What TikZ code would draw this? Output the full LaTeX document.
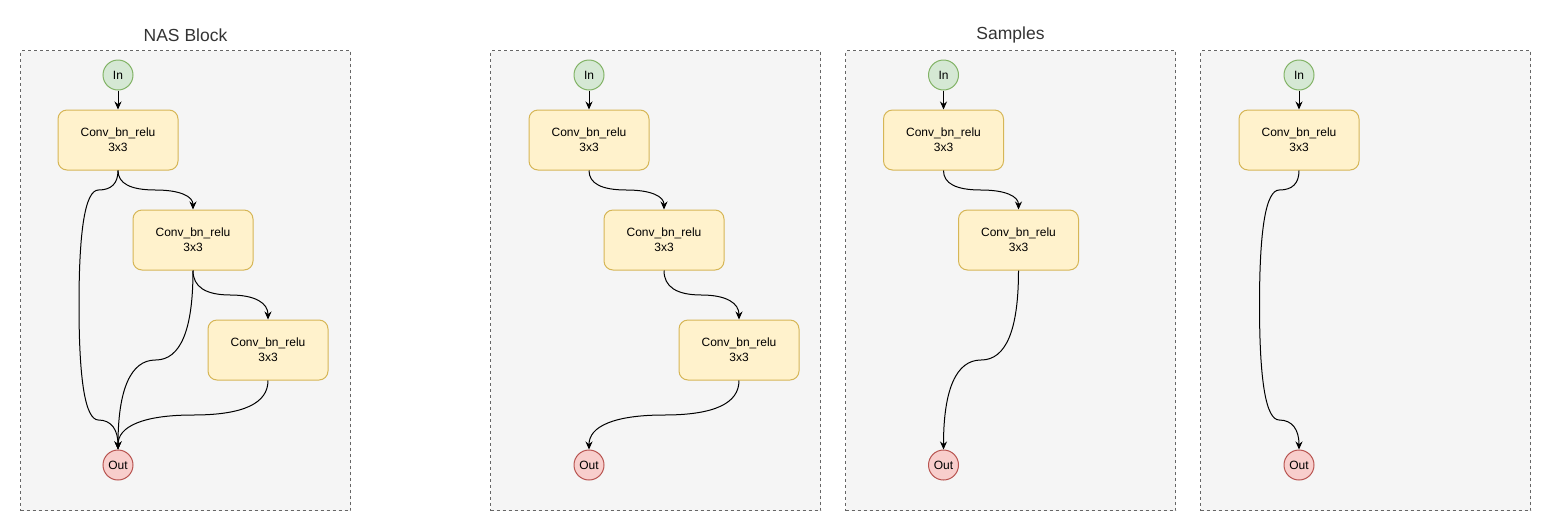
\documentclass[tikz,border=0pt]{standalone}
\usepackage{fontspec}
\setmainfont{Liberation Sans}
\usepackage{tikz}
\usetikzlibrary{arrows.meta,calc}
\definecolor{nasgray}{HTML}{F5F5F5}
\definecolor{nasgrayline}{HTML}{666666}
\definecolor{nasyellow}{HTML}{FFF2CC}
\definecolor{nasyellowline}{HTML}{D6B656}
\definecolor{nasgreen}{HTML}{D5E8D4}
\definecolor{nasgreenline}{HTML}{82B366}
\definecolor{nasred}{HTML}{F8CECC}
\definecolor{nasredline}{HTML}{B85450}

\begin{document}
\begin{tikzpicture}[x=1pt,y=-1pt,line width=1pt,
  panel/.style={draw=nasgrayline,fill=nasgray,dash pattern=on 3pt off 3pt,
    minimum width=330pt,minimum height=460pt,inner sep=0pt},
  paneltitle/.style={font=\fontsize{17.5}{20}\selectfont,text=black!80},
  convbox/.style={draw=nasyellowline,fill=nasyellow,rounded corners=9pt,minimum width=120pt,
    minimum height=60pt,align=center,inner sep=0pt,font=\fontsize{12}{15}\selectfont},
  inport/.style={circle,draw=nasgreenline,fill=nasgreen,minimum size=30pt,inner sep=0pt,
    font=\fontsize{12}{14}\selectfont},
  outport/.style={circle,draw=nasredline,fill=nasred,minimum size=30pt,inner sep=0pt,
    font=\fontsize{12}{14}\selectfont},
  flow/.style={-{Stealth[length=8pt,width=7pt]}},
  % vertical -> horizontal -> vertical bend, two quadratic pieces
  sbend/.style={to path={let \p1=(\tikztostart),\p2=(\tikztotarget),
      \p3=($(\p1)!.5!(\p2)$) in
    .. controls (\x1,{\y1+2*(\y3-\y1)/3}) and ({(5*\x1+\x2)/6},\y3) .. (\x3,\y3)
    .. controls ({(\x1+5*\x2)/6},\y3) and (\x2,{\y2+2*(\y3-\y2)/3}) .. (\tikztotarget)}}
]
  \useasboundingbox (0,0) rectangle (1552,531);
  % Panels and titles
  \node[panel] (p1) at (185.5,280.5) {};
  \node[panel] (p2) at (655.5,280.5) {};
  \node[panel] (p3) at (1010.5,280.5) {};
  \node[panel] (p4) at (1365.5,280.5) {};
  \node[paneltitle] (t1) at (185.5,35) {NAS Block};
  \node[paneltitle] (t2) at (1010.5,35) {Samples};

  % NAS block
  \node[inport] (in1) at (118,75) {In};
  \node[convbox] (c11) at (118,140) {Conv\_bn\_relu\\3x3};
  \node[convbox] (c12) at (193,240) {Conv\_bn\_relu\\3x3};
  \node[convbox] (c13) at (268,350) {Conv\_bn\_relu\\3x3};
  \node[outport] (out1) at (118,465) {Out};
  \draw[flow] (in1) -- (c11);
  \draw[flow] (c11.south) to[sbend] (c12.north);
  \draw[flow] (c12.south) to[sbend] (c13.north);
  \draw[flow] (c11.south) .. controls (118,183.3) and (111.5,190) .. (98.5,190)
    .. controls (85.5,190) and (79,228.3) .. (79,305)
    .. controls (79,381.7) and (85.5,420) .. (98.5,420)
    .. controls (111.5,420) and (118,430) .. (out1.north);
  \draw[flow] (c12.south) to[sbend] (out1.north);
  \draw[flow] (c13.south) to[sbend] (out1.north);

  % Sample 1
  \node[inport] (in2) at (589,75) {In};
  \node[convbox] (c21) at (589,140) {Conv\_bn\_relu\\3x3};
  \node[convbox] (c22) at (664,240) {Conv\_bn\_relu\\3x3};
  \node[convbox] (c23) at (739,350) {Conv\_bn\_relu\\3x3};
  \node[outport] (out2) at (589,465) {Out};
  \draw[flow] (in2) -- (c21);
  \draw[flow] (c21.south) to[sbend] (c22.north);
  \draw[flow] (c22.south) to[sbend] (c23.north);
  \draw[flow] (c23.south) to[sbend] (out2.north);

  % Sample 2
  \node[inport] (in3) at (943.5,75) {In};
  \node[convbox] (c31) at (943.5,140) {Conv\_bn\_relu\\3x3};
  \node[convbox] (c32) at (1018.5,240) {Conv\_bn\_relu\\3x3};
  \node[outport] (out3) at (943.5,465) {Out};
  \draw[flow] (in3) -- (c31);
  \draw[flow] (c31.south) to[sbend] (c32.north);
  \draw[flow] (c32.south) to[sbend] (out3.north);

  % Sample 3
  \node[inport] (in4) at (1299,75) {In};
  \node[convbox] (c41) at (1299,140) {Conv\_bn\_relu\\3x3};
  \node[outport] (out4) at (1299,465) {Out};
  \draw[flow] (in4) -- (c41);
  \draw[flow] (c41.south) .. controls (1299,183.3) and (1292.5,190) .. (1279.25,190)
    .. controls (1266,190) and (1259.5,228.3) .. (1259.5,305)
    .. controls (1259.5,381.7) and (1266,420) .. (1279.25,420)
    .. controls (1292.5,420) and (1299,430) .. (out4.north);
\end{tikzpicture}
\end{document}
